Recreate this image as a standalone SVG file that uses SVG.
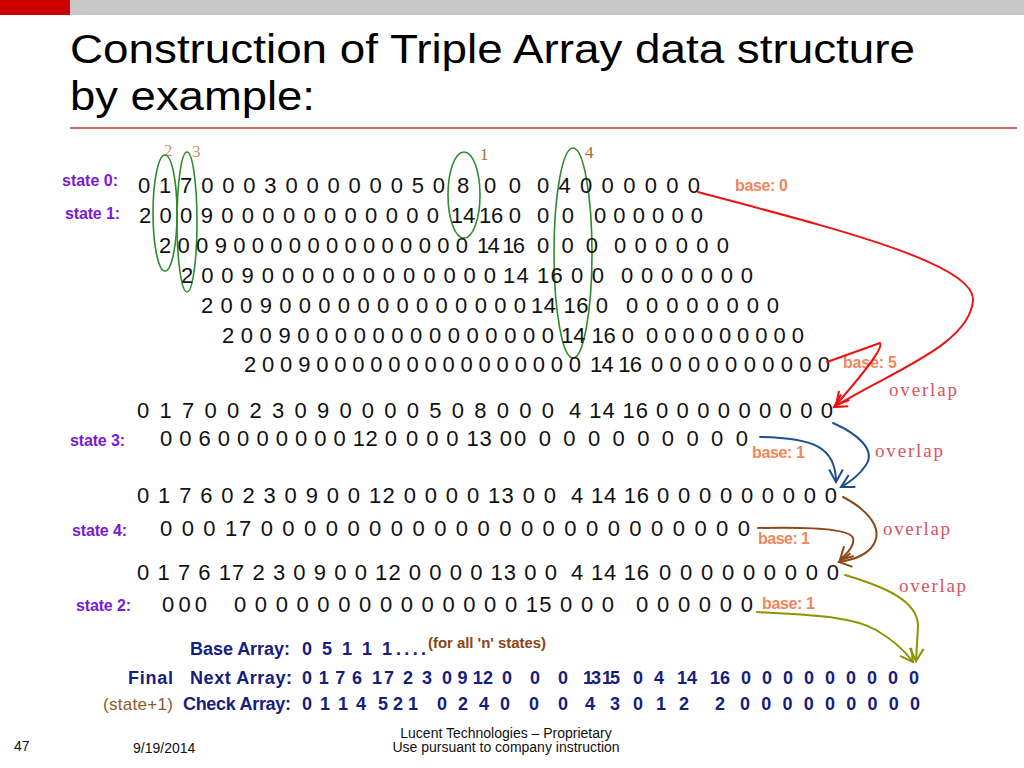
<svg xmlns="http://www.w3.org/2000/svg" width="1024" height="768" viewBox="0 0 1024 768">
<style>
.d{font-family:'Liberation Sans',Arial,sans-serif;font-size:22px;fill:#111}
.st{font-family:'Liberation Sans',Arial,sans-serif;font-weight:bold;font-size:16px;fill:#7A1AD6}
.bs{font-family:'Liberation Sans',Arial,sans-serif;font-weight:bold;font-size:16px;fill:#F4845A}
.ov{font-family:'Liberation Serif','Times New Roman',serif;font-size:19px;fill:#E0505E}
.num{font-family:'Liberation Serif','Times New Roman',serif;font-size:17px}
.ar{font-family:'Liberation Sans',Arial,sans-serif;font-weight:bold;font-size:18px;fill:#15207E}
.ft{font-family:'Liberation Sans Narrow','Liberation Sans',Arial,sans-serif;font-size:14px;fill:#111}
.ttl{font-family:'Liberation Sans Narrow','Liberation Sans',Arial,sans-serif;font-size:40px;fill:#000}
.el{fill:none;stroke:#2E8B2E;stroke-width:1.6}
.c{fill:none;stroke-width:2;stroke-linecap:round;stroke-linejoin:round}
</style>
<defs>
<marker id="mr" markerUnits="userSpaceOnUse" markerWidth="16" markerHeight="16" viewBox="0 0 14 14" refX="12" refY="7" orient="auto"><path d="M1,1 L12,7 L1,13" fill="none" stroke="#F01010" stroke-width="1.8"/></marker>
<marker id="mb" markerUnits="userSpaceOnUse" markerWidth="16" markerHeight="16" viewBox="0 0 14 14" refX="12" refY="7" orient="auto"><path d="M1,1 L12,7 L1,13" fill="none" stroke="#1F4F8F" stroke-width="1.8"/></marker>
<marker id="mn" markerUnits="userSpaceOnUse" markerWidth="16" markerHeight="16" viewBox="0 0 14 14" refX="12" refY="7" orient="auto"><path d="M1,1 L12,7 L1,13" fill="none" stroke="#8B4A1A" stroke-width="1.8"/></marker>
<marker id="mo" markerUnits="userSpaceOnUse" markerWidth="16" markerHeight="16" viewBox="0 0 14 14" refX="12" refY="7" orient="auto"><path d="M1,1 L12,7 L1,13" fill="none" stroke="#8C9400" stroke-width="1.8"/></marker>
</defs>
<rect width="1024" height="768" fill="#fff"/>
<g id="header">
<rect x="0" y="0" width="1024" height="15" fill="#C8C8C8"/>
<rect x="0" y="0" width="70" height="15" fill="#CC0000"/>
<text class="ttl" x="70" y="63" textLength="845" lengthAdjust="spacingAndGlyphs">Construction of Triple Array data structure</text>
<text class="ttl" x="70" y="110" textLength="245" lengthAdjust="spacingAndGlyphs">by example:</text>
<line x1="70" y1="128" x2="1017" y2="128" stroke="#C0392B" stroke-width="1.5"/>
</g>
<g id="labels">
<text class="st" x="62" y="186" textLength="56">state 0:</text>
<text class="st" x="65" y="219" textLength="55">state 1:</text>
<text class="st" x="70" y="446" textLength="55">state 3:</text>
<text class="st" x="72" y="536" textLength="55">state 4:</text>
<text class="st" x="76" y="611" textLength="55">state 2:</text>
</g>
<g id="column-marks">
<text class="num" x="164" y="156" fill="#C89A70">2</text>
<text class="num" x="192" y="157" fill="#C89A70">3</text>
<text class="num" x="480" y="160" fill="#A56A35">1</text>
<text class="num" x="585" y="158" fill="#A56A35">4</text>
<ellipse class="el" cx="165" cy="213" rx="12" ry="58"/>
<ellipse class="el" cx="187" cy="222" rx="10" ry="70"/>
<ellipse class="el" cx="464" cy="195" rx="16" ry="43"/>
<ellipse class="el" cx="573" cy="253" rx="19" ry="105"/>
</g>
<g id="row-state0">
<text class="d" x="138" y="193" textLength="307">0 1 7 0 0 0 3 0 0 0 0 0 0 5 0</text>
<text class="d" x="463" y="193" text-anchor="middle">8</text>
<text class="d" x="484" y="193" textLength="37">0 0</text>
<text class="d" x="537" y="193" textLength="163">0 4 0 0 0 0 0 0</text>
</g>
<g id="row-state1">
<text class="d" x="139" y="223" textLength="300">2 0 0 9 0 0 0 0 0 0 0 0 0 0 0</text>
<text class="d" x="463" y="223" text-anchor="middle">14</text>
<text class="d" x="479" y="223" textLength="42">16 0</text>
<text class="d" x="537" y="223" textLength="37">0 0</text>
<text class="d" x="594" y="223" textLength="109">0 0 0 0 0 0</text>
</g>
<g id="row-shift1">
<text class="d" x="159" y="253" textLength="309">2 0 0 9 0 0 0 0 0 0 0 0 0 0 0 0 0</text>
<text class="d" x="477" y="253" textLength="48">14 16</text>
<text class="d" x="537" y="253" textLength="61">0 0 0</text>
<text class="d" x="614" y="253" textLength="115">0 0 0 0 0 0</text>
</g>
<g id="row-shift2">
<text class="d" x="181" y="283" textLength="315">2 0 0 9 0 0 0 0 0 0 0 0 0 0 0 0</text>
<text class="d" x="503" y="283" textLength="101">14 16 0 0</text>
<text class="d" x="621" y="283" textLength="132">0 0 0 0 0 0 0</text>
</g>
<g id="row-shift3">
<text class="d" x="201" y="313" textLength="325">2 0 0 9 0 0 0 0 0 0 0 0 0 0 0 0 0</text>
<text class="d" x="531" y="313" textLength="77">14 16 0</text>
<text class="d" x="626" y="313" textLength="153">0 0 0 0 0 0 0 0</text>
</g>
<g id="row-shift4">
<text class="d" x="222" y="343" textLength="332">2 0 0 9 0 0 0 0 0 0 0 0 0 0 0 0 0 0</text>
<text class="d" x="561" y="343" textLength="73">14 16 0</text>
<text class="d" x="646" y="343" textLength="158">0 0 0 0 0 0 0 0 0</text>
</g>
<g id="row-shift5">
<text class="d" x="244" y="372" textLength="337">2 0 0 9 0 0 0 0 0 0 0 0 0 0 0 0 0 0 0</text>
<text class="d" x="590" y="372" textLength="52">14 16</text>
<text class="d" x="651" y="372" textLength="179">0 0 0 0 0 0 0 0 0 0</text>
</g>
<g id="row-merge01">
<text class="d" x="137" y="418" textLength="417">0 1 7 0 0 2 3 0 9 0 0 0 0 5 0 8 0 0 0</text>
<text class="d" x="569" y="418" textLength="79">4 14 16</text>
<text class="d" x="656" y="418" textLength="177">0 0 0 0 0 0 0 0 0</text>
</g>
<g id="row-state3">
<text class="d" x="160" y="446" textLength="237">0 0 6 0 0 0 0 0 0 0 12 0</text>
<text class="d" x="406" y="446" textLength="106">0 0 0 13 0</text>
<text class="d" x="514" y="446" textLength="234">0 0 0 0 0 0 0 0 0 0</text>
</g>
<g id="row-merge013">
<text class="d" x="137" y="503" textLength="419">0 1 7 6 0 2 3 0 9 0 0 12 0 0 0 0 13 0 0</text>
<text class="d" x="571" y="503" textLength="78">4 14 16</text>
<text class="d" x="657" y="503" textLength="180">0 0 0 0 0 0 0 0 0</text>
</g>
<g id="row-state4">
<text class="d" x="160" y="536" textLength="590">0 0 0 17 0 0 0 0 0 0 0 0 0 0 0 0 0 0 0 0 0 0 0 0 0 0 0</text>
</g>
<g id="row-merge0134">
<text class="d" x="137" y="580" textLength="420">0 1 7 6 17 2 3 0 9 0 0 12 0 0 0 0 13 0 0</text>
<text class="d" x="571" y="580" textLength="78">4 14 16</text>
<text class="d" x="659" y="580" textLength="180">0 0 0 0 0 0 0 0 0</text>
</g>
<g id="row-state2">
<text class="d" x="162" y="612" textLength="45">0 0 0</text>
<text class="d" x="234" y="612" textLength="380">0 0 0 0 0 0 0 0 0 0 0 0 0 0 15 0 0 0</text>
<text class="d" x="636" y="612" textLength="117">0 0 0 0 0 0</text>
</g>
<g id="annotations">
<text class="bs" x="735" y="191" textLength="53">base: 0</text>
<text class="bs" x="843" y="368" textLength="54">base: 5</text>
<text class="bs" x="752" y="458" textLength="53">base: 1</text>
<text class="bs" x="758" y="544" textLength="52">base: 1</text>
<text class="bs" x="762" y="609" textLength="53">base: 1</text>
<text class="ov" x="889" y="396" textLength="68">overlap</text>
<text class="ov" x="875" y="457" textLength="68">overlap</text>
<text class="ov" x="883" y="535" textLength="67">overlap</text>
<text class="ov" x="899" y="592" textLength="67">overlap</text>
</g>
<g id="connectors">
<path class="c" stroke="#F01010" d="M 698 192 C 820 225, 975 262, 973 300 C 970 345, 890 372, 834 407" marker-end="url(#mr)"/>
<path class="c" stroke="#F01010" d="M 827 362 L 880 343 C 884 348, 862 375, 836 405" marker-end="url(#mr)"/>
<path class="c" stroke="#1F4F8F" d="M 760 437 C 812 438, 836 446, 836 482" marker-end="url(#mb)"/>
<path class="c" stroke="#1F4F8F" d="M 833 423 C 858 434, 876 450, 866 465 C 860 474, 852 481, 841 487" marker-end="url(#mb)"/>
<path class="c" stroke="#8B4A1A" d="M 843 497 C 868 510, 886 530, 871 548 C 864 556, 852 560, 839 562" marker-end="url(#mn)"/>
<path class="c" stroke="#8B4A1A" d="M 758 528 C 800 527, 850 528, 853 538 C 855 546, 847 553, 840 560" marker-end="url(#mn)"/>
<path class="c" stroke="#8C9400" d="M 845 575 C 882 586, 918 600, 918 626 L 916 661" marker-end="url(#mo)"/>
<path class="c" stroke="#8C9400" d="M 757 612 C 802 615, 850 615, 876 630 C 895 641, 905 651, 913 662" marker-end="url(#mo)"/>
</g>
<g id="final-arrays">
<text class="ar" x="190" y="655" textLength="100">Base Array:</text>
<text class="ar" x="302" y="655" textLength="90">0 5 1 1 1</text>
<text class="ar" x="396" y="655" textLength="30">....</text>
<text x="428" y="648" textLength="118" font-family="'Liberation Sans',Arial,sans-serif" font-weight="bold" font-size="15" fill="#8B4513">(for all 'n' states)</text>
<text class="ar" x="128" y="684" textLength="45">Final</text>
<text class="ar" x="190" y="684" textLength="102">Next Array:</text>
<text class="ar" x="302" y="684" textLength="60">0 1 7 6</text>
<text class="ar" x="372" y="684" textLength="60">17 2 3</text>
<text class="ar" x="442" y="684" textLength="51">0 9 12</text>
<text class="ar" x="502" y="684" textLength="66">0 0 0</text>
<text class="ar" x="583" y="684" textLength="37">13 15</text>
<text class="ar" x="633" y="684" textLength="31">0 4</text>
<text class="ar" x="687" y="684" text-anchor="middle">14</text>
<text class="ar" x="720" y="684" text-anchor="middle">16</text>
<text class="ar" x="741" y="684" textLength="178">0 0 0 0 0 0 0 0 0</text>
<text x="103" y="710" textLength="70" font-family="'Liberation Sans',Arial,sans-serif" font-size="17" fill="#8B5A2B">(state+1)</text>
<text class="ar" x="183" y="710" textLength="108">Check Array:</text>
<text class="ar" x="302" y="710" textLength="64">0 1 1 4</text>
<text class="ar" x="378" y="710" textLength="40">5 2 1</text>
<text class="ar" x="437" y="710" textLength="52">0 2 4</text>
<text class="ar" x="500" y="710" textLength="68">0 0 0</text>
<text class="ar" x="585" y="710" textLength="35">4 3</text>
<text class="ar" x="633" y="710" textLength="56">0 1 2</text>
<text class="ar" x="720" y="710" text-anchor="middle">2</text>
<text class="ar" x="740" y="710" textLength="180">0 0 0 0 0 0 0 0 0</text>
</g>
<g id="footer">
<text class="ft" x="14" y="751">47</text>
<text class="ft" x="133" y="753">9/19/2014</text>
<text class="ft" x="506" y="738" text-anchor="middle">Lucent Technologies – Proprietary</text>
<text class="ft" x="506" y="752" text-anchor="middle">Use pursuant to company instruction</text>
</g>
</svg>
